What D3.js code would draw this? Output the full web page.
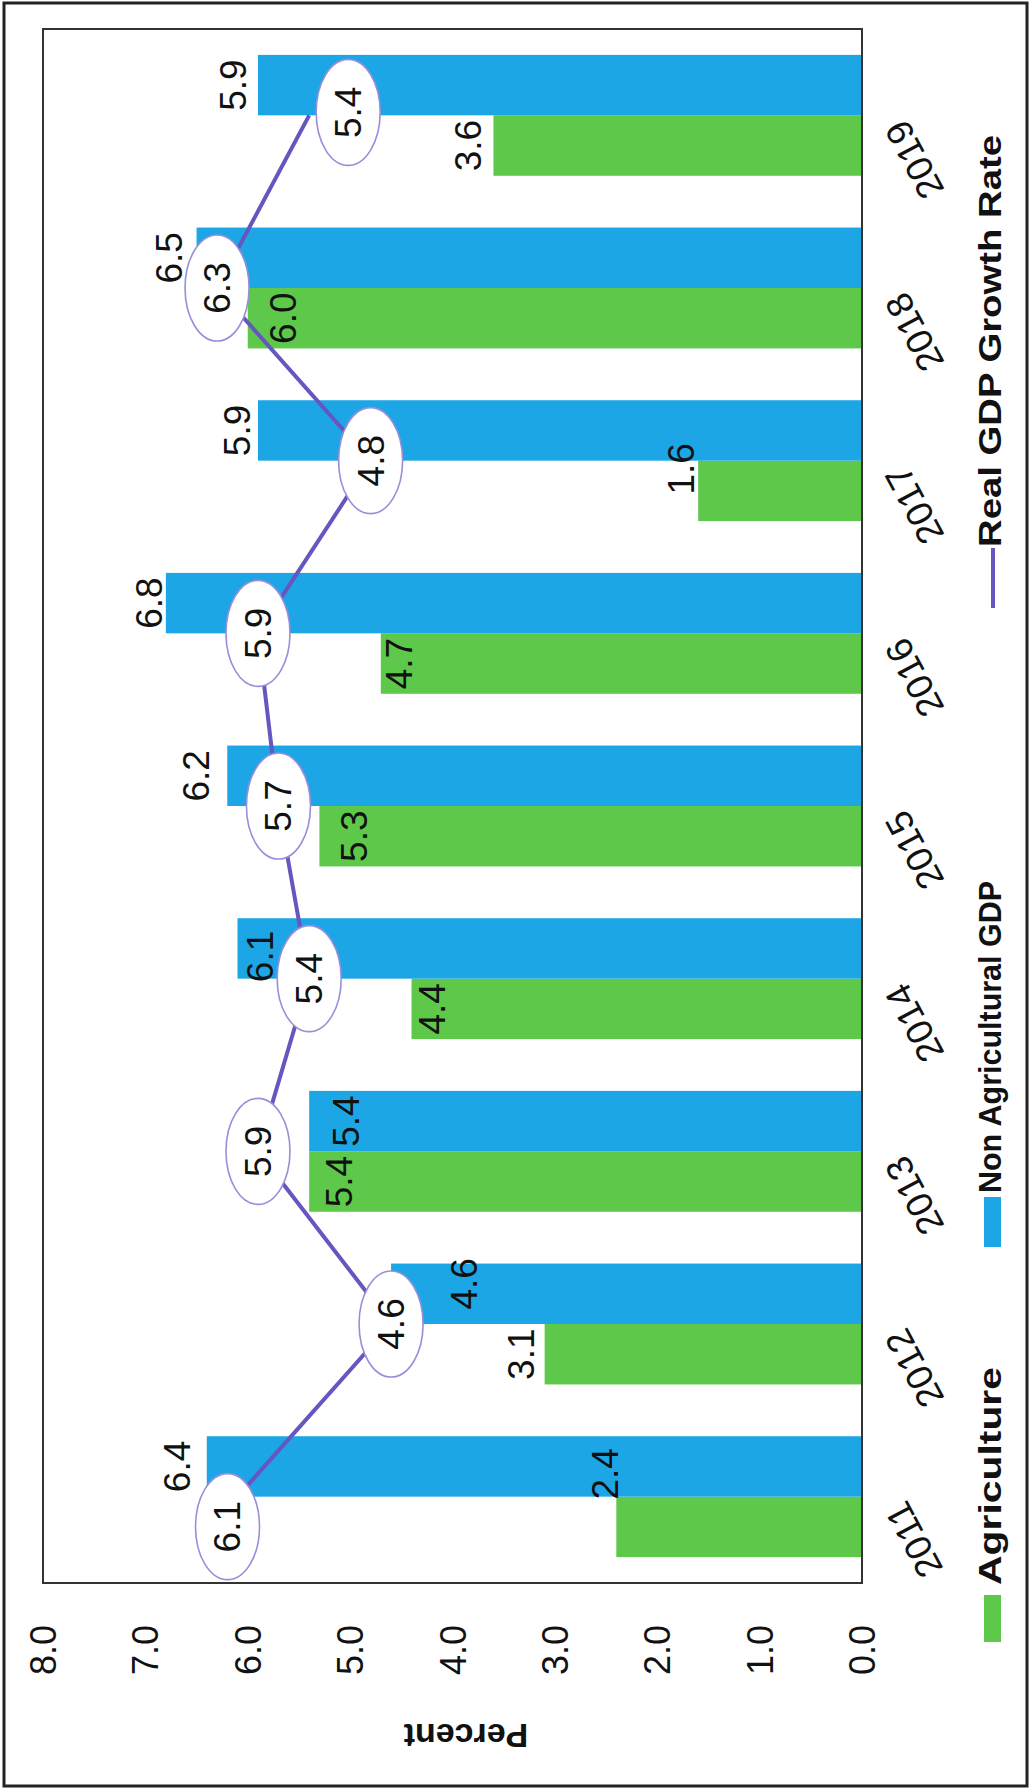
<!DOCTYPE html>
<html><head><meta charset="utf-8">
<script src="https://cdn.jsdelivr.net/npm/d3@7"></script>
<style>html,body{margin:0;padding:0;background:#fff}svg{display:block}</style>
</head><body>
<svg id="c" width="1030" height="1789"></svg>
<script>
// ---- data ----
const years = ["2011","2012","2013","2014","2015","2016","2017","2018","2019"];
const agriculture = [2.4,3.1,5.4,4.4,5.3,4.7,1.6,6.0,3.6];
const nonAgricultural = [6.4,4.6,5.4,6.1,6.2,6.8,5.9,6.5,5.9];
const realGdpGrowth = [6.1,4.6,5.9,5.4,5.7,5.9,4.8,6.3,5.4];
const valueTicks = [0,1,2,3,4,5,6,7,8];
const seriesNames = ["Agriculture","Non Agricultural GDP","Real GDP Growth Rate"];

// ---- label nudges (px): outward from bar end / sideways along category ----
const agriLabelOut = [11,24,-30,-20,-35,-18,17,-35,25];
const agriLabelSide = [53,0,0,0,0,0,22,0,0];
const nonAgriLabelOut = [30,-73,-37,-23,31,17,21,28,25];
const nonAgriLabelSide = [0,10,0,-8,0,0,0,0,0];
const gdpLabelShiftX = [-30,0,0,0,0,0,0,0,3];
const gdpLabelShiftY = [-10,0,0,0,0,0,0,0,39];

// ---- styles ----
const C_AGRI = "#5dc84a", C_NON = "#1ca6e6", C_LINE = "#6656c0", C_ELL = "#9a8ed8";
const FONT = "'Liberation Sans', Arial, Helvetica, sans-serif";

const W = 1789, H = 1030; // chart drawn in its original landscape frame, then rotated
const svg = d3.select("#c");
svg.append("rect").attr("x",0).attr("y",0).attr("width",1030).attr("height",1789).attr("fill","#fff");
const g = svg.append("g").attr("transform", `translate(0,${W}) rotate(-90)`);

// outer border
g.append("rect").attr("x",3).attr("y",4).attr("width",W-6).attr("height",H-7)
  .attr("fill","none").attr("stroke","#222").attr("stroke-width",3);

const plot = {left:206, right:1760, top:43, bottom:862};

const x0 = d3.scaleBand().domain(years).range([plot.left, plot.right]).paddingInner(0.3).paddingOuter(0.15);
const x1 = d3.scaleBand().domain(["agri","non"]).range([0, x0.bandwidth()]);
const y = d3.scaleLinear().domain([0,8]).range([plot.bottom, plot.top]);

// bars
const rows = years.map((yr,i)=>({yr,i,agri:agriculture[i],non:nonAgricultural[i],gdp:realGdpGrowth[i]}));
const bars = g.append("g");
bars.selectAll("rect.agri").data(rows).join("rect").attr("class","agri")
  .attr("x", d=>x0(d.yr)+x1("agri")).attr("width", x1.bandwidth())
  .attr("y", d=>y(d.agri)).attr("height", d=>y(0)-y(d.agri)).attr("fill", C_AGRI);
bars.selectAll("rect.non").data(rows).join("rect").attr("class","non")
  .attr("x", d=>x0(d.yr)+x1("non")).attr("width", x1.bandwidth())
  .attr("y", d=>y(d.non)).attr("height", d=>y(0)-y(d.non)).attr("fill", C_NON);

// plot border
g.append("rect").attr("x",plot.left).attr("y",plot.top).attr("width",plot.right-plot.left).attr("height",plot.bottom-plot.top)
  .attr("fill","none").attr("stroke","#333").attr("stroke-width",2);

// value axis tick labels
const yAxis = d3.axisLeft(y).tickValues(valueTicks).tickFormat(d3.format(".1f")).tickSize(0).tickPadding(0);
const ya = g.append("g").attr("transform",`translate(164,0)`).call(yAxis);
ya.select(".domain").remove();
ya.selectAll("text").attr("font-family",FONT).attr("font-size",36).attr("fill","#111").attr("dy","0.35em");

// axis title
g.append("text").attr("transform","translate(53,466) rotate(-90)")
  .attr("text-anchor","middle").attr("dy","0.35em")
  .attr("font-family",FONT).attr("font-size",34).attr("font-weight","bold").attr("fill","#111").text("Percent");

// category labels
const xAxis = d3.axisBottom(x0).tickSize(0).tickPadding(0);
const xa = g.append("g").call(xAxis);
xa.select(".domain").remove();
xa.selectAll(".tick").attr("transform", d=>`translate(${x0(d)+x0.bandwidth()/2-8},895)`);
xa.selectAll("text").attr("font-family",FONT).attr("font-size",37).attr("fill","#111")
  .attr("text-anchor","end").attr("x",0).attr("y",0).attr("dy","0.35em").attr("transform","rotate(-28)");

// bar value labels
const lab = g.append("g").attr("font-family",FONT).attr("font-size",37).attr("fill","#111").attr("text-anchor","middle");
lab.selectAll("text.la").data(rows).join("text").attr("class","la")
  .attr("x", d=>x0(d.yr)+x1("agri")+x1.bandwidth()/2+agriLabelSide[d.i])
  .attr("y", d=>y(d.agri)-agriLabelOut[d.i]).attr("dy","0.35em").text(d=>d.agri.toFixed(1));
lab.selectAll("text.ln").data(rows).join("text").attr("class","ln")
  .attr("x", d=>x0(d.yr)+x1("non")+x1.bandwidth()/2+nonAgriLabelSide[d.i])
  .attr("y", d=>y(d.non)-nonAgriLabelOut[d.i]).attr("dy","0.35em").text(d=>d.non.toFixed(1));

// GDP line
const line = d3.line().x(d=>x0(d.yr)+x0.bandwidth()/2).y(d=>y(d.gdp));
g.append("path").datum(rows).attr("d",line).attr("fill","none").attr("stroke",C_LINE).attr("stroke-width",4);

// GDP ellipse labels
const el = g.append("g").selectAll("g").data(rows).join("g")
  .attr("transform", d=>`translate(${x0(d.yr)+x0.bandwidth()/2+gdpLabelShiftX[d.i]},${y(d.gdp)+gdpLabelShiftY[d.i]})`);
el.append("ellipse").attr("rx",53).attr("ry",32).attr("fill","#fff").attr("stroke",C_ELL).attr("stroke-width",1.6);
el.append("text").attr("text-anchor","middle").attr("dy","0.35em")
  .attr("font-family",FONT).attr("font-size",37).attr("fill","#111").text(d=>d.gdp.toFixed(1));

// legend
const leg = g.append("g").attr("font-family",FONT).attr("font-weight","bold").attr("font-size",31).attr("fill","#111");
const legendItems = [
  {name:seriesNames[0], type:"rect", color:C_AGRI, mx:147, mw:47, tx:204, tl:218},
  {name:seriesNames[1], type:"rect", color:C_NON,  mx:542, mw:50, tx:596, tl:312},
  {name:seriesNames[2], type:"line", color:C_LINE, mx:1181, mw:60, tx:1242, tl:412}
];
legendItems.forEach(it=>{
  if(it.type==="rect") leg.append("rect").attr("x",it.mx).attr("y",984).attr("width",it.mw).attr("height",17).attr("fill",it.color);
  else leg.append("line").attr("x1",it.mx).attr("x2",it.mx+it.mw).attr("y1",993).attr("y2",993).attr("stroke",it.color).attr("stroke-width",4);
  leg.append("text").attr("x",it.tx).attr("y",1001).attr("textLength",it.tl).attr("lengthAdjust","spacingAndGlyphs").text(it.name);
});
</script>
</body></html>
